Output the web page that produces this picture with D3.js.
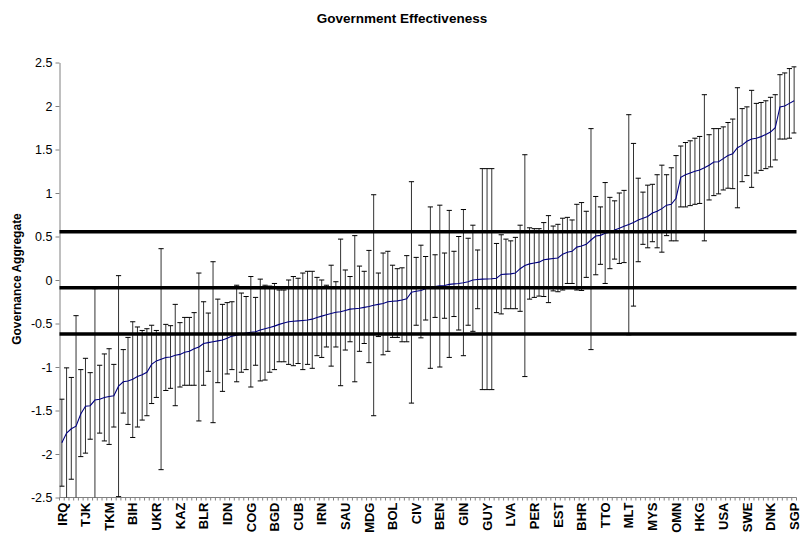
<!DOCTYPE html>
<html>
<head>
<meta charset="utf-8">
<script src="https://cdn.jsdelivr.net/npm/d3@7"></script>
<style>
  body { margin: 0; background: #fff; }
  svg { display: block; }
  text { font-family: "Liberation Sans", Arial, Helvetica, sans-serif; }
</style>
</head>
<body>
<svg id="chart" width="801" height="533"></svg>
<script>
// Country codes printed under every fifth category (countries sorted by estimate)
const tickLabels = ["IRQ","TJK","TKM","BIH","UKR","KAZ","BLR","IDN","COG","BGD","CUB","IRN",
  "SAU","MDG","BOL","CIV","BEN","GIN","GUY","LVA","PER","EST","BHR","TTO","MLT","MYS",
  "OMN","HKG","USA","SWE","DNK","SGP"];
const labelEvery = 5;

// Point estimates of the governance indicator, lowest to highest
const estimate = [
  -1.87,-1.76,-1.71,-1.68,-1.54,-1.45,-1.445,-1.38,-1.37,-1.35,
  -1.34,-1.33,-1.22,-1.17,-1.16,-1.14,-1.11,-1.09,-1.06,-0.97,
  -0.93,-0.91,-0.89,-0.885,-0.865,-0.855,-0.83,-0.82,-0.79,-0.77,
  -0.73,-0.72,-0.71,-0.70,-0.69,-0.67,-0.645,-0.635,-0.62,-0.61,
  -0.60,-0.595,-0.575,-0.56,-0.545,-0.53,-0.51,-0.495,-0.48,-0.475,
  -0.47,-0.465,-0.46,-0.45,-0.43,-0.415,-0.40,-0.385,-0.37,-0.365,
  -0.35,-0.335,-0.33,-0.325,-0.315,-0.305,-0.29,-0.28,-0.27,-0.25,
  -0.245,-0.24,-0.23,-0.215,-0.14,-0.13,-0.12,-0.10,-0.085,-0.075,
  -0.067,-0.063,-0.05,-0.045,-0.04,-0.031,-0.02,0.0,0.005,0.01,
  0.012,0.015,0.02,0.064,0.067,0.07,0.08,0.13,0.167,0.185,
  0.195,0.205,0.232,0.24,0.248,0.253,0.297,0.32,0.33,0.378,
  0.39,0.41,0.46,0.505,0.513,0.538,0.548,0.575,0.594,0.617,
  0.637,0.66,0.69,0.71,0.73,0.77,0.79,0.82,0.86,0.87,
  0.94,1.18,1.21,1.23,1.25,1.265,1.29,1.32,1.357,1.36,
  1.395,1.43,1.45,1.52,1.55,1.595,1.62,1.63,1.648,1.673,
  1.70,1.75,1.99,2.0,2.03,2.06
];

// Upper bound of each confidence interval
const upper = [
  -1.37,-1.01,-1.12,-0.41,-1.03,-0.90,-1.065,-0.10,-0.98,-0.85,
  -0.79,-0.97,0.05,-0.80,-0.66,-0.48,-0.54,-0.58,-0.56,-0.52,
  -0.58,0.36,-0.51,-0.525,-0.28,-0.49,-0.43,-0.43,-0.375,0.08,
  -0.25,-0.38,0.21,-0.22,-0.28,-0.26,-0.25,-0.06,-0.15,-0.19,
  0.04,-0.20,0.01,-0.06,-0.07,-0.04,-0.115,-0.115,0.0,0.04,
  0.02,0.08,0.10,0.10,0.03,0.0,-0.06,0.17,-0.02,0.47,
  0.115,0.04,0.51,0.16,0.10,0.34,0.98,0.08,0.31,0.33,
  0.17,0.13,0.14,0.28,1.13,0.26,0.40,0.27,0.84,0.29,
  0.86,0.31,0.80,0.33,0.50,0.81,0.48,0.63,0.345,1.28,
  1.28,1.28,0.42,0.52,0.47,0.45,0.49,0.63,1.44,0.60,
  0.59,0.59,0.66,0.74,0.62,0.64,0.71,0.72,0.69,0.87,
  0.89,0.79,1.74,0.96,0.84,1.12,0.95,0.91,1.00,1.03,
  1.90,1.57,1.17,1.01,1.09,1.10,1.21,1.32,1.21,1.29,
  1.43,1.54,1.58,1.60,1.63,1.65,2.13,1.67,1.74,1.74,
  1.76,1.81,1.85,2.21,1.97,1.99,2.18,2.03,2.04,2.06,
  2.10,2.13,2.36,2.38,2.43,2.45
];

// Lower bound of each confidence interval
const lower = [
  -2.37,-2.51,-2.29,-2.95,-2.03,-1.99,-1.83,-2.66,-1.76,-1.85,
  -1.89,-1.69,-2.49,-1.53,-1.66,-1.81,-1.69,-1.61,-1.56,-1.42,
  -1.35,-2.18,-1.27,-1.245,-1.445,-1.23,-1.21,-1.21,-1.21,-1.62,
  -1.21,-1.05,-1.64,-1.18,-1.28,-1.08,-1.03,-1.17,-1.06,-1.03,
  -1.23,-0.98,-1.16,-1.15,-1.06,-1.03,-0.94,-0.94,-0.97,-0.985,
  -0.96,-1.03,-0.97,-1.015,-0.87,-0.89,-0.77,-0.99,-0.77,-1.215,
  -0.805,-0.71,-1.17,-0.82,-0.73,-0.95,-1.56,-0.65,-0.86,-0.82,
  -0.66,-0.66,-0.71,-0.71,-1.415,-0.52,-0.665,-0.46,-1.015,-0.43,
  -1.00,-0.44,-0.89,-0.42,-0.575,-0.87,-0.52,-0.59,-0.33,-1.26,
  -1.26,-1.26,-0.375,-0.39,-0.33,-0.33,-0.33,-0.36,-1.11,-0.22,
  -0.20,-0.185,-0.19,-0.26,-0.125,-0.135,-0.115,-0.04,-0.04,-0.115,
  -0.12,0.03,-0.80,0.06,0.18,-0.04,0.13,0.24,0.19,0.20,
  -0.63,-0.30,0.21,0.41,0.37,0.44,0.37,0.32,0.51,0.45,
  0.45,0.84,0.84,0.855,0.87,0.88,0.45,0.92,0.97,0.99,
  1.035,1.055,1.05,0.83,1.13,1.20,1.065,1.23,1.26,1.28,
  1.30,1.38,1.62,1.62,1.63,1.69
];

// Reference levels drawn across the whole plot
const cutoffs = [0.555, -0.09, -0.62];
const yTicks = [2.5, 2, 1.5, 1, 0.5, 0, -0.5, -1, -1.5, -2, -2.5];

const plot = { left: 59.5, right: 796.5, top: 62.5, bottom: 497.5 };
const svg = d3.select("#chart");

const idx = d3.range(estimate.length);
const x = d3.scaleBand().domain(idx).range([plot.left, plot.right]).padding(0);
const y = d3.scaleLinear().domain([-2.5, 2.5]).range([plot.bottom, plot.top]);
const cx = i => x(i) + x.bandwidth() / 2;

svg.append("defs").append("clipPath").attr("id", "plotArea")
  .append("rect")
  .attr("x", plot.left).attr("y", plot.top)
  .attr("width", plot.right - plot.left).attr("height", plot.bottom - plot.top);

// Title
svg.append("text")
  .attr("x", 402).attr("y", 23)
  .attr("text-anchor", "middle")
  .style("font-size", "13.5px").style("font-weight", "bold")
  .text("Government Effectiveness");

// Y axis title
svg.append("text")
  .attr("transform", "translate(21,279) rotate(-90)")
  .attr("text-anchor", "middle")
  .style("font-size", "12px").style("font-weight", "bold")
  .text("Governance Aggregate");

// Y axis
const yAxis = svg.append("g")
  .attr("transform", `translate(${plot.left},0)`)
  .call(d3.axisLeft(y).tickValues(yTicks).tickSize(4).tickSizeOuter(0).tickPadding(3)
    .tickFormat(d => String(d)));
yAxis.selectAll("path, line").attr("stroke", "#808080");
yAxis.selectAll("text").style("font-size", "12.5px").attr("fill", "#000")
  .style("font-family", "'Liberation Sans', Arial, sans-serif");

// X axis: a tick between every pair of categories, a label on every fifth
const xAxis = svg.append("g")
  .attr("transform", `translate(0,${plot.bottom})`);
xAxis.append("line")
  .attr("x1", plot.left).attr("x2", plot.right)
  .attr("stroke", "#808080");
xAxis.selectAll("line.cat")
  .data(d3.range(estimate.length + 1))
  .join("line").attr("class", "cat")
  .attr("x1", i => i < estimate.length ? x(i) : plot.right)
  .attr("x2", i => i < estimate.length ? x(i) : plot.right)
  .attr("y1", 0).attr("y2", 3)
  .attr("stroke", "#808080");

const labelled = idx.filter(i => i % labelEvery === 0);
const xLabels = svg.append("g")
  .attr("transform", `translate(0,${plot.bottom})`)
  .call(d3.axisBottom(x).tickValues(labelled).tickSize(0).tickSizeOuter(0)
    .tickFormat(i => tickLabels[i / labelEvery]));
xLabels.select(".domain").remove();
xLabels.selectAll("text")
  .attr("transform", "rotate(-90)")
  .attr("x", -5).attr("y", 0).attr("dy", "0.36em")
  .style("text-anchor", "end")
  .style("font-size", "13px").style("font-weight", "bold").attr("fill", "#000")
  .style("font-family", "'Liberation Sans', Arial, sans-serif");

// Confidence interval whiskers
const bars = svg.append("g").attr("clip-path", "url(#plotArea)");
const capHalf = 2.6;
bars.selectAll("line.whisker")
  .data(idx).join("line").attr("class", "whisker")
  .attr("x1", cx).attr("x2", cx)
  .attr("y1", i => y(upper[i])).attr("y2", i => y(lower[i]))
  .attr("stroke", "#333").attr("stroke-width", 1);
bars.selectAll("line.capTop")
  .data(idx).join("line").attr("class", "capTop")
  .attr("x1", i => cx(i) - capHalf).attr("x2", i => cx(i) + capHalf)
  .attr("y1", i => y(upper[i])).attr("y2", i => y(upper[i]))
  .attr("stroke", "#000").attr("stroke-width", 1);
bars.selectAll("line.capBottom")
  .data(idx).join("line").attr("class", "capBottom")
  .attr("x1", i => cx(i) - capHalf).attr("x2", i => cx(i) + capHalf)
  .attr("y1", i => y(lower[i])).attr("y2", i => y(lower[i]))
  .attr("stroke", "#000").attr("stroke-width", 1);

// Estimate line
svg.append("path")
  .datum(idx)
  .attr("clip-path", "url(#plotArea)")
  .attr("fill", "none")
  .attr("stroke", "#000080")
  .attr("stroke-width", 1.1)
  .attr("d", d3.line().x(cx).y(i => y(estimate[i])));

// Reference levels
svg.selectAll("line.cutoff")
  .data(cutoffs).join("line").attr("class", "cutoff")
  .attr("x1", plot.left).attr("x2", plot.right)
  .attr("y1", d => y(d)).attr("y2", d => y(d))
  .attr("stroke", "#000").attr("stroke-width", 3.5);
</script>
</body>
</html>
